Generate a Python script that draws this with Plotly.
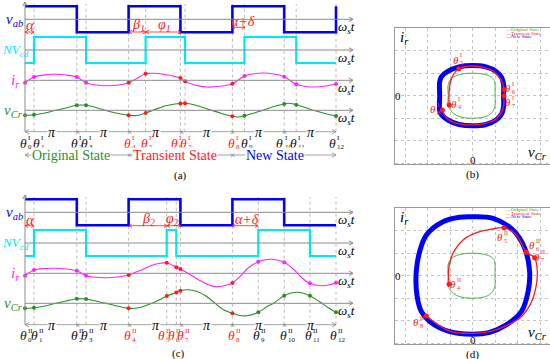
import math
import plotly.graph_objects as go

W, H = 550, 359
SERIF = "Liberation Serif, Times New Roman, DejaVu Serif, serif"

# ---------------- data: switching angles (rad) ----------------
TH_A = [0, 0.545, 3.14, 3.70, 6.28, 7.31, 9.42, 9.70, 12.57, 13.30, 15.71, 16.44, 18.85]
TH_C = [0, 0.545, 3.14, 3.70, 6.28, 8.59, 9.17, 9.42, 12.57, 14.14, 15.71, 17.27, 18.85]

# square waves (step values)
VAB_A_T = [0, 3.14, 6.28, 9.42, 12.57, 15.71, 18.85]
VAB_A_V = [1, -1, 1, -1, 1, -1, 1]
VAB_C_T = [0, 3.14, 6.28, 9.42, 12.57, 15.71, 18.85]
VAB_C_V = [1, -1, 1, -1, 1, -1, -1]
NCD_A_T = [0, 0.545, 3.70, 7.31, 9.70, 13.30, 16.44, 18.85]
NCD_A_V = [-1, 1, -1, 1, -1, 1, -1, -1]
NCD_C_T = [0, 0.545, 3.70, 8.59, 9.17, 14.14, 17.27, 18.85]
NCD_C_V = [-1, 1, -1, 1, -1, 1, -1, -1]

# resonant current / capacitor voltage samples (per-unit)
IR_A_T = [0, 0.545, 1.21, 1.82, 2.48, 3.14, 3.70, 4.30, 4.85, 5.58, 6.28, 6.79, 7.31, 7.82, 8.48, 9.09,
          9.42, 9.70, 10.30, 11.03, 11.82, 12.57, 13.30, 13.88, 14.42, 15.09, 15.71, 16.44, 17.03, 17.58, 18.24, 18.85]
IR_A_V = [-0.42, 0.58, 0.96, 1.05, 0.93, 0.58, -0.42, -0.82, -0.95, -0.88, -0.42, 0.32, 1.16, 1.23, 1.02, 0.67,
          0.40, -0.18, -0.82, -1.18, -1.05, -0.60, 0.75, 1.14, 1.28, 1.10, 0.63, -0.70, -1.09, -1.18, -1.0, -0.65]
VC_A_T = [0, 0.545, 1.21, 1.82, 2.48, 3.14, 3.70, 4.30, 4.85, 5.58, 6.28, 6.79, 7.31, 7.88, 8.48, 9.09, 9.42,
          9.70, 10.30, 11.31, 11.94, 12.57, 12.91, 13.30, 13.94, 14.42, 15.09, 15.71, 15.94, 16.44, 17.03, 17.58, 18.24, 18.85]
VC_A_V = [-1.0, -0.88, -0.54, -0.04, 0.46, 1.0, 1.0, 0.56, 0.0, -0.6, -1.0, -1.04, -0.54, 0.16, 0.86, 1.26, 1.36,
          1.40, 1.06, 0.0, -0.64, -1.2, -1.34, -1.08, -0.48, 0.0, 0.76, 1.26, 1.40, 1.12, 0.5, -0.1, -0.68, -1.14]
IR_C_T = [0, 0.545, 1.21, 1.82, 2.48, 3.14, 3.70, 4.30, 4.97, 5.58, 6.28, 6.97, 7.58, 8.18, 8.59, 9.17, 9.42,
          10.0, 10.6, 11.21, 11.64, 12.12, 12.57, 13.03, 13.52, 14.14, 14.55, 14.97, 15.71, 16.36, 16.79, 17.27,
          17.98, 18.48, 18.85]
IR_C_V = [-0.42, 0.58, 0.84, 0.88, 0.75, 0.46, -0.42, -0.70, -0.77, -0.65, -0.30, 0.49, 1.28, 1.75, 1.86, 1.05,
          0.75, -0.21, -1.26, -2.14, -2.35, -2.14, -1.70, -0.60, 0.93, 2.04, 2.37, 2.46, 1.93, 0.49, -0.82, -1.75,
          -2.18, -2.02, -1.65]
VC_C_T = [0, 0.545, 1.21, 1.82, 2.48, 3.14, 3.70, 4.30, 4.97, 5.58, 6.28, 6.97, 7.58, 8.18, 8.59, 9.17, 9.42,
          9.88, 10.42, 10.97, 11.52, 12.06, 12.57, 13.03, 13.45, 14.14, 14.73, 15.09, 15.71, 16.48, 17.27, 17.88,
          18.36, 18.85]
VC_C_V = [-1.0, -0.88, -0.54, -0.04, 0.46, 0.92, 0.86, 0.46, -0.04, -0.54, -1.0, -0.84, -0.14, 0.76, 1.46, 2.16,
          2.52, 2.72, 2.36, 1.46, 0.0, -1.34, -2.0, -2.44, -2.48, -1.8, -0.54, 0.06, 1.52, 2.2, 1.52, 0.26,
          -0.84, -1.8]

# phase-plane trajectories (v_Cr, i_r)
ORIG_V = [-1.08, -1.08, -1.08, -0.95, -0.7, -0.35, 0, 0.35, 0.7, 0.95, 1.0, 1.0, 1.0, 0.9, 0.7, 0.35, 0, -0.35, -0.7, -0.95, -1.08]
ORIG_I = [-0.45, 0.0, 0.5, 0.75, 0.9, 0.98, 1.0, 0.98, 0.9, 0.72, 0.5, 0.0, -0.45, -0.7, -0.88, -0.98, -1.0, -0.98, -0.88, -0.68, -0.45]
NEW_B_V = [-1.46, -1.46, -1.46, -1.38, -1.1, -0.6, 0, 0.6, 1.05, 1.3, 1.38, 1.38, 1.38, 1.3, 1.05, 0.6, 0, -0.6, -1.1, -1.38, -1.46]
NEW_B_I = [-0.65, 0.0, 0.6, 0.85, 1.08, 1.28, 1.34, 1.28, 1.08, 0.8, 0.5, 0.0, -0.5, -0.8, -1.08, -1.28, -1.34, -1.28, -1.08, -0.85, -0.65]
TR_B_V = [-1.04, -1.04, -0.98, -0.86, -0.61, -0.3, 0, 0.5, 0.91, 1.28, 1.4, 1.4, 1.36, 1.06, 0.5, 0, -0.6, -1.12, -1.34]
TR_B_I = [-0.41, 0.18, 0.62, 0.92, 1.2, 1.3, 1.32, 1.26, 1.1, 0.7, 0.28, -0.01, -0.56, -1.02, -1.25, -1.3, -1.25, -1.02, -0.64]
TR_B_MARK = [0, 4, 10, 11, 18]
NEW_D_V = [-2.5, -2.47, -2.27, -1.9, -1.01, -0.02, 0.76, 1.5, 2.17, 2.47, 2.54, 2.32, 1.8, 0.91, -0.02, -0.57, -1.31, -2.05, -2.35, -2.5]
NEW_D_I = [0.18, -0.86, -1.6, -2.04, -2.49, -2.6, -2.52, -2.19, -1.6, -0.71, 0.18, 1.22, 2.03, 2.55, 2.62, 2.6, 2.4, 1.81, 1.07, 0.18]
TR_D_V = [-1.04, -1.07, -0.98, -0.79, -0.42, 0.17, 0.84, 1.4, 1.95, 2.39, 2.76, 2.88, 2.81, 2.59, 2.17, 1.5, 0.76, -0.02, -1.01, -2.05]
TR_D_I = [-0.38, 0.18, 0.7, 1.14, 1.59, 1.91, 2.07, 2.13, 1.81, 1.04, 0.8, 0.18, -0.56, -1.23, -1.82, -2.22, -2.49, -2.56, -2.46, -1.79]
TR_D_MARK = [0, 7, 9, 10, 19]

LEGEND = ["Original State", "Transient State", "New State"]

# ---------------- styling / layout constants ----------------
BLUE, CYAN, MAG, GRN, RED, GRAY = "#0000ff", "#00e8f0", "#ff22ff", "#2a8f2a", "#ff1a1a", "#8a8a8a"
K = 311 / 18.85          # px per rad
X0 = 25                  # px of theta = 0
PANEL_DY = 193           # vertical offset of panel (c)


def yr(base_px, ppu):
    return [(base_px - H) / ppu, base_px / ppu]


def PX(x):
    return x / W


def PY(y):
    return 1 - y / H


fig = go.Figure()
ann, shp = [], []


def T(x, y, s, color="black", size=13, xa="center", ya="middle", bg=None, align="center"):
    d = dict(x=PX(x), y=PY(y), xref="paper", yref="paper", text=s, showarrow=False, align=align,
             font=dict(family=SERIF, size=size, color=color), xanchor=xa, yanchor=ya, borderpad=0)
    if bg:
        d["bgcolor"] = bg
    ann.append(d)


def arrow(x1, y1, x2, y2, color=GRAY, width=1.0, both=False, L=4.0, w=2.2):
    shp.append(dict(type="line", xref="paper", yref="paper", x0=PX(x1), y0=PY(y1), x1=PX(x2), y1=PY(y2),
                    line=dict(color=color, width=width)))
    heads = [(x2, y2, x1, y1)] + ([(x1, y1, x2, y2)] if both else [])
    for tx, ty, fx, fy in heads:
        dx, dy = tx - fx, ty - fy
        n = math.hypot(dx, dy)
        ux, uy = dx / n, dy / n
        nx, ny = -uy, ux
        ax_, ay_ = tx - L * ux + w * nx, ty - L * uy + w * ny
        bx_, by_ = tx - L * ux - w * nx, ty - L * uy - w * ny
        path = f"M {PX(ax_):.5f},{PY(ay_):.5f} L {PX(tx):.5f},{PY(ty):.5f} L {PX(bx_):.5f},{PY(by_):.5f}"
        shp.append(dict(type="path", xref="paper", yref="paper", path=path, line=dict(color=color, width=width)))


def theta_label(xc, yc, idx, sup, color, size=14, ss=7.5):
    T(xc, yc, "<i>θ</i>", color, size)
    T(xc + size * 0.27, yc - 0.5, f"{sup}<br>{idx}", color, ss, xa="left", align="left")


layout = dict(
    width=W, height=H, margin=dict(l=0, r=0, t=0, b=0, pad=0), autosize=False,
    paper_bgcolor="white", plot_bgcolor="rgba(0,0,0,0)", showlegend=False,
    xaxis=dict(domain=[0, 1], range=[-X0 / K, (W - X0) / K], visible=False, fixedrange=True),
)

panels = {
    "a": dict(dy=0, th=TH_A, vab=(VAB_A_T, VAB_A_V), ncd=(NCD_A_T, NCD_A_V), ir=(IR_A_T, IR_A_V), vc=(VC_A_T, VC_A_V)),
    "c": dict(dy=PANEL_DY, th=TH_C, vab=(VAB_C_T, VAB_C_V), ncd=(NCD_C_T, NCD_C_V), ir=(IR_C_T, IR_C_V), vc=(VC_C_T, VC_C_V)),
}
BASES = dict(vab=(19.3, 13), ncd=(50, 13), ir=(80.3, 5.7), vc=(110.3, 5.0))
ax_n = 1
for key, P in panels.items():
    dy = P["dy"]
    for th in P["th"][1:]:
        shp.append(dict(type="line", xref="x", yref="paper", x0=th, x1=th, y0=PY(131.7 + dy),
                        y1=PY(4 + dy), line=dict(color="#a8a8a8", width=0.8, dash="dot"), layer="below"))
    for sig in ["vab", "ncd", "ir", "vc"]:
        base, ppu = BASES[sig]
        name = "yaxis" if ax_n == 1 else f"yaxis{ax_n}"
        ycfg = dict(domain=[0, 1], range=yr(base + dy, ppu), visible=False, anchor="x", fixedrange=True)
        if ax_n > 1:
            ycfg["overlaying"] = "y"
        layout[name] = ycfg
        yref = "y" if ax_n == 1 else f"y{ax_n}"
        arrow(X0, base + dy, 353, base + dy, GRAY, 1.0, False, 4, 2.2)
        T(346, base + dy + 8, "<i>ω<sub>s</sub>t</i>", "black", 13)
        t, v = P[sig]
        if sig in ("vab", "ncd"):
            fig.add_trace(go.Scatter(x=t, y=v, xaxis="x", yaxis=yref, mode="lines", line_shape="hv",
                                     line=dict(color=BLUE if sig == "vab" else CYAN, width=2.6 if sig == "vab" else 2.2)))
        else:
            col = MAG if sig == "ir" else GRN
            fig.add_trace(go.Scatter(x=t, y=v, xaxis="x", yaxis=yref, mode="lines", line_shape="spline",
                                     line=dict(color=col, width=1.1, smoothing=0.8)))
            lookup = dict(zip(t, v))
            mv = [lookup[th] for th in P["th"]]
            mc = [RED if 4 <= i <= 8 else col for i in range(len(mv))]
            fig.add_trace(go.Scatter(x=P["th"], y=mv, xaxis="x", yaxis=yref, mode="markers",
                                     marker=dict(color=mc, size=4)))
        ax_n += 1
    arrow(X0, 131.7 + dy, X0, 2 + dy, GRAY, 1.0, False, 4, 2.2)
    arrow(X0, 131.7 + dy, 336, 131.7 + dy, GRAY, 0.8, True, 4, 2.2)
    for xx in [77, 129, 181, 232, 284]:
        T(xx, 131.7 + dy, "×", "#666", 9)
    for xx in [51.5, 103.5, 155.5, 206.5, 258.5, 310.5]:
        T(xx, 132.5 + dy, "<i>π</i>", "black", 14, bg="white")

# signal names
for dy in (0, PANEL_DY):
    T(14, 20 + dy, "<i>v<sub>ab</sub></i>", BLUE, 15)
    T(0.5, 50 + dy, "<i>NV<sub>cd</sub></i>", CYAN, 13, xa="left")
    T(15, 81 + dy, "<i>i<sub>r</sub></i>", MAG, 15)
    T(13, 111 + dy, "<i>v<sub>Cr</sub></i>", GRN, 15)

# theta labels
XL_A = [23, 36, 74.5, 84.5, 127, 144.5, 174.5, 183.5, 231, 244.5, 280, 293, 332]
XL_C = [23, 34.3, 74.5, 84.5, 127, 161.5, 171.5, 180.5, 231, 256.5, 283, 308, 333]
for i, xx in enumerate(XL_A):
    theta_label(xx, 143, i, "I", RED if 4 <= i <= 8 else "#111", 13.5, 7)
for i, xx in enumerate(XL_C):
    theta_label(xx, 335.5, i, "II", RED if 4 <= i <= 8 else "#111", 13.5, 7)

# state row of (a)
arrow(X0, 155, 336, 155, GRAY, 0.8, True, 4, 2.2)
for xx in [129, 232]:
    T(xx, 155, "×", "#666", 9)
T(71, 155.5, LEGEND[0], GRN, 14, bg="white")
T(175, 155.5, LEGEND[1], RED, 14, bg="white")
T(275, 155.5, LEGEND[2], BLUE, 14, bg="white")

# red phase-shift marks (a)
arrow(25, 32, 34, 32, RED, 0.8, True, 3, 1.8)
T(30, 25, "<i>α</i>", RED, 15)
arrow(129, 32, 146, 32, RED, 0.8, True, 3, 1.8)
arrow(146, 32, 181, 32, RED, 0.8, True, 3, 1.8)
T(138, 25, "<i>β<sub>1</sub></i>", RED, 14)
T(164, 25, "<i>φ<sub>1</sub></i>", RED, 14)
arrow(232, 27.3, 245, 27.3, RED, 0.8, True, 3, 1.8)
T(243, 21.5, "<i>α+δ</i>", RED, 14)
# (c)
arrow(25, 225.7, 34, 225.7, RED, 0.8, True, 3, 1.8)
T(30, 219.5, "<i>α</i>", RED, 15)
arrow(129, 225.7, 167, 225.7, RED, 0.8, True, 3, 1.8)
arrow(167, 225.7, 181, 225.7, RED, 0.8, True, 3, 1.8)
T(148, 219.5, "<i>β<sub>2</sub></i>", RED, 14)
T(172, 219.5, "<i>φ<sub>2</sub></i>", RED, 14)
arrow(232, 225.7, 258, 225.7, RED, 0.8, True, 3, 1.8)
T(246.5, 219.5, "<i>α+δ</i>", RED, 14)

T(180, 175, "(a)", "black", 11)
T(178, 353, "(c)", "black", 11)

# ---------------- phase plane plots ----------------
PX_C, PPU_P = 472.5, 22.5
xr_p = [(395 - PX_C) / PPU_P, (549.5 - PX_C) / PPU_P]
phase = [("x2", "y9", 95.7, (NEW_B_V, NEW_B_I), (TR_B_V, TR_B_I), TR_B_MARK, "(b)"),
         ("x3", "y10", 275.7, (NEW_D_V, NEW_D_I), (TR_D_V, TR_D_I), TR_D_MARK, "(d)")]
for xa, ya, cy, newc, trc, marks, lab in phase:
    top, bot = cy - 67.4, cy + 68.6
    axcfg = dict(showgrid=True, gridcolor="#c4c4c4", griddash="dot", gridwidth=1, zeroline=False,
                 showticklabels=False, ticks="", showline=True, mirror=True, linecolor="#999", linewidth=1,
                 dtick=1, tick0=0, fixedrange=True)
    layout["xaxis" + xa[1:]] = dict(domain=[395 / W, 549.5 / W], range=xr_p, anchor=ya, **axcfg)
    layout["yaxis" + ya[1:]] = dict(domain=[PY(bot), PY(top)], range=[(cy - bot) / PPU_P, (cy - top) / PPU_P],
                                    anchor=xa, **axcfg)
    fig.add_trace(go.Scatter(x=ORIG_V, y=ORIG_I, xaxis=xa, yaxis=ya, mode="lines", line_shape="spline",
                             line=dict(color="#3aa83a", width=0.9)))
    fig.add_trace(go.Scatter(x=newc[0], y=newc[1], xaxis=xa, yaxis=ya, mode="lines", line_shape="spline",
                             line=dict(color=BLUE, width=5)))
    fig.add_trace(go.Scatter(x=trc[0], y=trc[1], xaxis=xa, yaxis=ya, mode="lines", line_shape="spline",
                             line=dict(color=RED, width=1.3)))
    fig.add_trace(go.Scatter(x=[trc[0][m] for m in marks], y=[trc[1][m] for m in marks], xaxis=xa, yaxis=ya,
                             mode="markers", marker=dict(color=RED, size=5)))
    T(404, cy - 58, "<i>i<sub>r</sub></i>", "black", 15)
    T(537, cy + 57.5, "<i>v<sub>Cr</sub></i>", "black", 15)
    T(398, cy, "0", "black", 11)
    T(472.5, cy + 64, "0", "black", 11)
    T(472.5, cy + 79, lab, "black", 11)
    for j, (txt, col) in enumerate(zip(LEGEND, ["#3aa83a", RED, BLUE])):
        T(504, cy - 66 + 3.4 * j, "—" + txt, col, 5, xa="left")

# phase labels
PL_B = [(454, 104, 4), (456, 60, 5), (508, 88.3, 6), (508, 102.3, 7), (433, 109, 8)]
PL_D = [(453, 284.3, 4), (500, 237.3, 5), (532.3, 245, 6), (537, 256.7, 7), (415.7, 322.3, 8)]
for xx, yy, i in PL_B:
    theta_label(xx, yy, i, "I", RED, 11, 6)
for xx, yy, i in PL_D:
    theta_label(xx, yy, i, "II", RED, 11, 6)

layout["annotations"] = ann
layout["shapes"] = shp
fig.update_layout(**layout)
fig.write_html("out.html", config={"displayModeBar": False, "staticPlot": True},
               post_script="document.body.style.margin='0px';document.body.style.overflow='hidden';")
